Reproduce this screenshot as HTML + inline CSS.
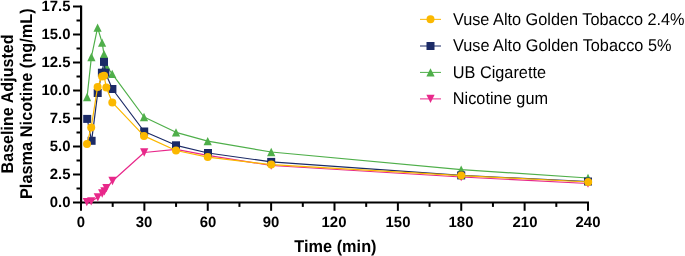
<!DOCTYPE html>
<html><head><meta charset="utf-8"><style>
html,body{margin:0;padding:0;background:#fff;}
body{width:685px;height:256px;overflow:hidden;font-family:"Liberation Sans",sans-serif;}
svg{display:block;will-change:transform;text-rendering:geometricPrecision;}
</style></head><body>
<svg width="685" height="256" viewBox="0 0 685 256">
<line x1="81.1" y1="5.5" x2="81.1" y2="203.5" stroke="#000" stroke-width="2.2"/>
<line x1="80" y1="202.5" x2="589" y2="202.5" stroke="#000" stroke-width="2"/>
<line x1="73" y1="202.50" x2="81" y2="202.50" stroke="#000" stroke-width="2"/>
<line x1="76.5" y1="188.50" x2="81" y2="188.50" stroke="#000" stroke-width="2"/>
<line x1="73" y1="174.50" x2="81" y2="174.50" stroke="#000" stroke-width="2"/>
<line x1="76.5" y1="160.50" x2="81" y2="160.50" stroke="#000" stroke-width="2"/>
<line x1="73" y1="146.50" x2="81" y2="146.50" stroke="#000" stroke-width="2"/>
<line x1="76.5" y1="132.50" x2="81" y2="132.50" stroke="#000" stroke-width="2"/>
<line x1="73" y1="118.50" x2="81" y2="118.50" stroke="#000" stroke-width="2"/>
<line x1="76.5" y1="104.50" x2="81" y2="104.50" stroke="#000" stroke-width="2"/>
<line x1="73" y1="90.50" x2="81" y2="90.50" stroke="#000" stroke-width="2"/>
<line x1="76.5" y1="76.50" x2="81" y2="76.50" stroke="#000" stroke-width="2"/>
<line x1="73" y1="62.50" x2="81" y2="62.50" stroke="#000" stroke-width="2"/>
<line x1="76.5" y1="48.50" x2="81" y2="48.50" stroke="#000" stroke-width="2"/>
<line x1="73" y1="34.50" x2="81" y2="34.50" stroke="#000" stroke-width="2"/>
<line x1="76.5" y1="20.50" x2="81" y2="20.50" stroke="#000" stroke-width="2"/>
<line x1="73" y1="6.50" x2="81" y2="6.50" stroke="#000" stroke-width="2"/>
<line x1="81.00" y1="202.5" x2="81.00" y2="210.8" stroke="#000" stroke-width="2"/>
<line x1="112.69" y1="202.5" x2="112.69" y2="206.9" stroke="#000" stroke-width="2"/>
<line x1="144.38" y1="202.5" x2="144.38" y2="210.8" stroke="#000" stroke-width="2"/>
<line x1="176.06" y1="202.5" x2="176.06" y2="206.9" stroke="#000" stroke-width="2"/>
<line x1="207.75" y1="202.5" x2="207.75" y2="210.8" stroke="#000" stroke-width="2"/>
<line x1="239.44" y1="202.5" x2="239.44" y2="206.9" stroke="#000" stroke-width="2"/>
<line x1="271.12" y1="202.5" x2="271.12" y2="210.8" stroke="#000" stroke-width="2"/>
<line x1="302.81" y1="202.5" x2="302.81" y2="206.9" stroke="#000" stroke-width="2"/>
<line x1="334.50" y1="202.5" x2="334.50" y2="210.8" stroke="#000" stroke-width="2"/>
<line x1="366.19" y1="202.5" x2="366.19" y2="206.9" stroke="#000" stroke-width="2"/>
<line x1="397.88" y1="202.5" x2="397.88" y2="210.8" stroke="#000" stroke-width="2"/>
<line x1="429.56" y1="202.5" x2="429.56" y2="206.9" stroke="#000" stroke-width="2"/>
<line x1="461.25" y1="202.5" x2="461.25" y2="210.8" stroke="#000" stroke-width="2"/>
<line x1="492.94" y1="202.5" x2="492.94" y2="206.9" stroke="#000" stroke-width="2"/>
<line x1="524.62" y1="202.5" x2="524.62" y2="210.8" stroke="#000" stroke-width="2"/>
<line x1="556.31" y1="202.5" x2="556.31" y2="206.9" stroke="#000" stroke-width="2"/>
<line x1="588.00" y1="202.5" x2="588.00" y2="210.8" stroke="#000" stroke-width="2"/>
<polyline points="86.80,202.20 91.20,201.40 97.80,197.30 102.20,193.50 104.40,191.30 106.40,188.20 112.50,181.00 144.20,152.50 176.00,149.30 207.75,155.30 271.20,165.50 461.20,177.00 588.00,183.50" fill="none" stroke="#E8288A" stroke-width="1.2" stroke-linejoin="round"/>
<polygon points="82.70,198.05 90.90,198.05 86.80,206.35" fill="#E8288A"/>
<polygon points="87.10,197.25 95.30,197.25 91.20,205.55" fill="#E8288A"/>
<polygon points="93.70,193.15 101.90,193.15 97.80,201.45" fill="#E8288A"/>
<polygon points="98.10,189.35 106.30,189.35 102.20,197.65" fill="#E8288A"/>
<polygon points="100.30,187.15 108.50,187.15 104.40,195.45" fill="#E8288A"/>
<polygon points="102.30,184.05 110.50,184.05 106.40,192.35" fill="#E8288A"/>
<polygon points="108.40,176.85 116.60,176.85 112.50,185.15" fill="#E8288A"/>
<polygon points="140.10,148.35 148.30,148.35 144.20,156.65" fill="#E8288A"/>
<polygon points="171.90,145.15 180.10,145.15 176.00,153.45" fill="#E8288A"/>
<polygon points="203.65,151.15 211.85,151.15 207.75,159.45" fill="#E8288A"/>
<polygon points="267.10,161.35 275.30,161.35 271.20,169.65" fill="#E8288A"/>
<polygon points="457.10,172.85 465.30,172.85 461.20,181.15" fill="#E8288A"/>
<polygon points="583.90,179.35 592.10,179.35 588.00,187.65" fill="#E8288A"/>
<polyline points="87.10,97.00 91.40,57.00 97.60,27.70 102.10,42.70 104.00,54.20 106.30,66.00 112.20,73.90 144.00,117.00 176.00,132.30 207.70,141.10 271.20,152.00 461.20,169.60 588.00,178.00" fill="none" stroke="#4FAF4A" stroke-width="1.2" stroke-linejoin="round"/>
<polygon points="87.10,92.85 91.20,101.15 83.00,101.15" fill="#4FAF4A"/>
<polygon points="91.40,52.85 95.50,61.15 87.30,61.15" fill="#4FAF4A"/>
<polygon points="97.60,23.55 101.70,31.85 93.50,31.85" fill="#4FAF4A"/>
<polygon points="102.10,38.55 106.20,46.85 98.00,46.85" fill="#4FAF4A"/>
<polygon points="104.00,50.05 108.10,58.35 99.90,58.35" fill="#4FAF4A"/>
<polygon points="106.30,61.85 110.40,70.15 102.20,70.15" fill="#4FAF4A"/>
<polygon points="112.20,69.75 116.30,78.05 108.10,78.05" fill="#4FAF4A"/>
<polygon points="144.00,112.85 148.10,121.15 139.90,121.15" fill="#4FAF4A"/>
<polygon points="176.00,128.15 180.10,136.45 171.90,136.45" fill="#4FAF4A"/>
<polygon points="207.70,136.95 211.80,145.25 203.60,145.25" fill="#4FAF4A"/>
<polygon points="271.20,147.85 275.30,156.15 267.10,156.15" fill="#4FAF4A"/>
<polygon points="461.20,165.45 465.30,173.75 457.10,173.75" fill="#4FAF4A"/>
<polygon points="588.00,173.85 592.10,182.15 583.90,182.15" fill="#4FAF4A"/>
<polyline points="87.20,118.90 91.60,140.80 97.70,93.00 101.90,72.70 104.00,61.90 105.40,72.70 112.40,89.00 144.20,131.50 176.00,145.30 208.00,153.00 271.20,161.90 461.20,175.40 588.00,181.50" fill="none" stroke="#1B2A66" stroke-width="1.2" stroke-linejoin="round"/>
<rect x="83.20" y="114.90" width="8.0" height="8.0" fill="#1B2A66"/>
<rect x="87.60" y="136.80" width="8.0" height="8.0" fill="#1B2A66"/>
<rect x="93.70" y="89.00" width="8.0" height="8.0" fill="#1B2A66"/>
<rect x="97.90" y="68.70" width="8.0" height="8.0" fill="#1B2A66"/>
<rect x="100.00" y="57.90" width="8.0" height="8.0" fill="#1B2A66"/>
<rect x="101.40" y="68.70" width="8.0" height="8.0" fill="#1B2A66"/>
<rect x="108.40" y="85.00" width="8.0" height="8.0" fill="#1B2A66"/>
<rect x="140.20" y="127.50" width="8.0" height="8.0" fill="#1B2A66"/>
<rect x="172.00" y="141.30" width="8.0" height="8.0" fill="#1B2A66"/>
<rect x="204.00" y="149.00" width="8.0" height="8.0" fill="#1B2A66"/>
<rect x="267.20" y="157.90" width="8.0" height="8.0" fill="#1B2A66"/>
<rect x="457.20" y="171.40" width="8.0" height="8.0" fill="#1B2A66"/>
<rect x="584.00" y="177.50" width="8.0" height="8.0" fill="#1B2A66"/>
<polyline points="87.00,143.90 91.20,127.50 97.60,86.90 102.10,76.40 104.10,75.80 106.30,87.60 112.30,102.40 144.00,135.90 176.00,150.50 207.75,157.10 271.20,164.60 461.20,175.60 588.20,182.00" fill="none" stroke="#FBB800" stroke-width="1.2" stroke-linejoin="round"/>
<circle cx="87.00" cy="143.90" r="4.0" fill="#FBB800"/>
<circle cx="91.20" cy="127.50" r="4.0" fill="#FBB800"/>
<circle cx="97.60" cy="86.90" r="4.0" fill="#FBB800"/>
<circle cx="102.10" cy="76.40" r="4.0" fill="#FBB800"/>
<circle cx="104.10" cy="75.80" r="4.0" fill="#FBB800"/>
<circle cx="106.30" cy="87.60" r="4.0" fill="#FBB800"/>
<circle cx="112.30" cy="102.40" r="4.0" fill="#FBB800"/>
<circle cx="144.00" cy="135.90" r="4.0" fill="#FBB800"/>
<circle cx="176.00" cy="150.50" r="4.0" fill="#FBB800"/>
<circle cx="207.75" cy="157.10" r="4.0" fill="#FBB800"/>
<circle cx="271.20" cy="164.60" r="4.0" fill="#FBB800"/>
<circle cx="461.20" cy="175.60" r="4.0" fill="#FBB800"/>
<circle cx="588.20" cy="182.00" r="4.0" fill="#FBB800"/>
<text transform="translate(70.50,207.40)" text-anchor="end" font-weight="bold" font-size="14.9" font-family="Liberation Sans, sans-serif">0.0</text>
<text transform="translate(70.50,179.40)" text-anchor="end" font-weight="bold" font-size="14.9" font-family="Liberation Sans, sans-serif">2.5</text>
<text transform="translate(70.50,151.40)" text-anchor="end" font-weight="bold" font-size="14.9" font-family="Liberation Sans, sans-serif">5.0</text>
<text transform="translate(70.50,123.40)" text-anchor="end" font-weight="bold" font-size="14.9" font-family="Liberation Sans, sans-serif">7.5</text>
<text transform="translate(70.50,95.40)" text-anchor="end" font-weight="bold" font-size="14.9" font-family="Liberation Sans, sans-serif">10.0</text>
<text transform="translate(70.50,67.40)" text-anchor="end" font-weight="bold" font-size="14.9" font-family="Liberation Sans, sans-serif">12.5</text>
<text transform="translate(70.50,39.40)" text-anchor="end" font-weight="bold" font-size="14.9" font-family="Liberation Sans, sans-serif">15.0</text>
<text transform="translate(70.50,11.40)" text-anchor="end" font-weight="bold" font-size="14.9" font-family="Liberation Sans, sans-serif">17.5</text>
<text transform="translate(81.00,227.00)" text-anchor="middle" font-weight="bold" font-size="14.9" font-family="Liberation Sans, sans-serif">0</text>
<text transform="translate(144.00,227.00)" text-anchor="middle" font-weight="bold" font-size="14.9" font-family="Liberation Sans, sans-serif">30</text>
<text transform="translate(208.00,227.00)" text-anchor="middle" font-weight="bold" font-size="14.9" font-family="Liberation Sans, sans-serif">60</text>
<text transform="translate(271.00,227.00)" text-anchor="middle" font-weight="bold" font-size="14.9" font-family="Liberation Sans, sans-serif">90</text>
<text transform="translate(334.00,227.00)" text-anchor="middle" font-weight="bold" font-size="14.9" font-family="Liberation Sans, sans-serif">120</text>
<text transform="translate(398.00,227.00)" text-anchor="middle" font-weight="bold" font-size="14.9" font-family="Liberation Sans, sans-serif">150</text>
<text transform="translate(461.00,227.00)" text-anchor="middle" font-weight="bold" font-size="14.9" font-family="Liberation Sans, sans-serif">180</text>
<text transform="translate(525.00,227.00)" text-anchor="middle" font-weight="bold" font-size="14.9" font-family="Liberation Sans, sans-serif">210</text>
<text transform="translate(588.00,227.00)" text-anchor="middle" font-weight="bold" font-size="14.9" font-family="Liberation Sans, sans-serif">240</text>
<text transform="translate(335.40,251.50) scale(1,1.045)" text-anchor="middle" font-weight="bold" textLength="82.3" font-size="16.3" font-family="Liberation Sans, sans-serif">Time (min)</text>
<text transform="translate(12.70,103.95) rotate(-90) scale(1,1.06)" text-anchor="middle" font-weight="bold" textLength="139" font-size="16" font-family="Liberation Sans, sans-serif">Baseline Adjusted</text>
<text transform="translate(31.60,103.65) rotate(-90) scale(1,1.045)" text-anchor="middle" font-weight="bold" textLength="190.8" font-size="16.3" font-family="Liberation Sans, sans-serif">Plasma Nicotine (ng/mL)</text>
<line x1="420" y1="19.35" x2="441" y2="19.35" stroke="#FBB800" stroke-width="1.0"/>
<circle cx="430.50" cy="19.35" r="4.0" fill="#FBB800"/>
<text transform="translate(452.90,24.55) scale(1,1.045)" textLength="231.7" font-size="16.3" font-family="Liberation Sans, sans-serif">Vuse Alto Golden Tobacco 2.4%</text>
<line x1="420" y1="46.0" x2="441" y2="46.0" stroke="#1B2A66" stroke-width="1.0"/>
<rect x="426.50" y="42.00" width="8.0" height="8.0" fill="#1B2A66"/>
<text transform="translate(452.90,51.10) scale(1,1.045)" textLength="218.6" font-size="16.3" font-family="Liberation Sans, sans-serif">Vuse Alto Golden Tobacco 5%</text>
<line x1="420" y1="72.4" x2="441" y2="72.4" stroke="#4FAF4A" stroke-width="1.0"/>
<polygon points="430.50,68.25 434.60,76.55 426.40,76.55" fill="#4FAF4A"/>
<text transform="translate(452.70,77.50) scale(1,1.045)" textLength="93.4" font-size="16.3" font-family="Liberation Sans, sans-serif">UB Cigarette</text>
<line x1="420" y1="98.9" x2="441" y2="98.9" stroke="#E8288A" stroke-width="1.0"/>
<polygon points="426.40,94.75 434.60,94.75 430.50,103.05" fill="#E8288A"/>
<text transform="translate(452.70,104.00) scale(1,1.045)" textLength="95.4" font-size="16.3" font-family="Liberation Sans, sans-serif">Nicotine gum</text>
</svg>
</body></html>
